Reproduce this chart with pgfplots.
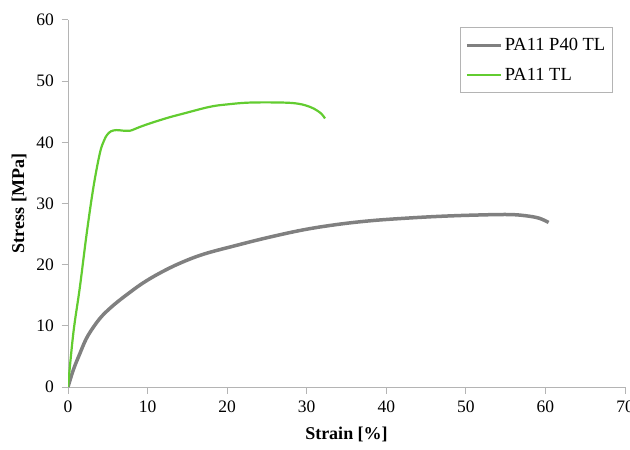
\documentclass[border=0pt]{standalone}
\usepackage{fontspec}
\setmainfont{Liberation Serif}
\usepackage{pgfplots}
\pgfplotsset{compat=1.18}
\definecolor{grayline}{RGB}{128,128,128}
\definecolor{greenline}{RGB}{98,204,48}
\definecolor{axgray}{RGB}{180,180,180}
\begin{document}
\begin{tikzpicture}
\begin{axis}[
  scale only axis,
  width=557pt, height=367pt,
  xmin=0, xmax=70, ymin=0, ymax=60,
  xtick={0,10,...,70}, ytick={0,10,...,60},
  axis x line*=bottom, axis y line*=left,
  axis line style={axgray, line width=1pt, -},
  tick style={axgray, line width=1pt},
  tick align=outside, major tick length=6.5pt,
  /pgf/number format/assume math mode=true,
  tick label style={font=\rmfamily\fontsize{17.5}{20}\selectfont},
  xticklabel style={yshift=-4pt},
  yticklabel style={xshift=-4pt},
  xlabel={\textbf{Strain [\%]}},
  ylabel={\textbf{Stress [MPa]}},
  label style={font=\rmfamily\fontsize{18}{21}\selectfont},
  xlabel style={yshift=-7pt},
  ylabel style={yshift=3pt},
  legend style={at={(0.978,0.981)}, anchor=north east, draw=axgray, line width=1pt,
    font=\rmfamily\fontsize{18.5}{21}\selectfont, row sep=12pt, inner xsep=5pt, inner ysep=9pt},
  legend cell align=left,
  legend image code/.code={\draw[#1] (0cm,0cm) -- (1.2cm,0cm);},
]
\addplot[grayline, line width=3.5pt, smooth, tension=0.6] coordinates {
(0,0) (0.67,2.8) (1.5,5.5) (2.3,7.9) (3.2,9.8) (4.2,11.5) (5.3,12.9) (6.3,14.0) (7.4,15.1) (9.3,16.9) (11.5,18.6) (14,20.2) (17,21.7) (21,23.1) (25,24.4) (29.6,25.7) (34,26.6) (38.2,27.2) (42.5,27.6) (46.7,27.9) (51,28.1) (55.3,28.2) (57.5,28.0) (59.2,27.6) (60.4,26.9)
};
\addlegendentry{PA11 P40 TL}
\addplot[greenline, line width=2.2pt, smooth, tension=0.6] coordinates {
(0,0) (0.67,8.8) (1.5,16.4) (2.35,25.1) (3.2,32.7) (4.0,38.2) (4.5,40.2) (4.9,41.2) (5.4,41.8) (6.1,42.0) (7.0,41.9) (7.8,41.9) (9,42.5) (10.3,43.1) (12.5,44.0) (14.5,44.7) (17.8,45.8) (20,46.2) (22.9,46.5) (27,46.5) (29,46.3) (30.4,45.8) (31.3,45.2) (31.9,44.6) (32.3,43.9)
};
\addlegendentry{PA11 TL}
\end{axis}
\pgfresetboundingbox
\path ([xshift=-68pt,yshift=-62pt]current axis.south west) rectangle ([xshift=5pt,yshift=20pt]current axis.north east);
\end{tikzpicture}
\end{document}
